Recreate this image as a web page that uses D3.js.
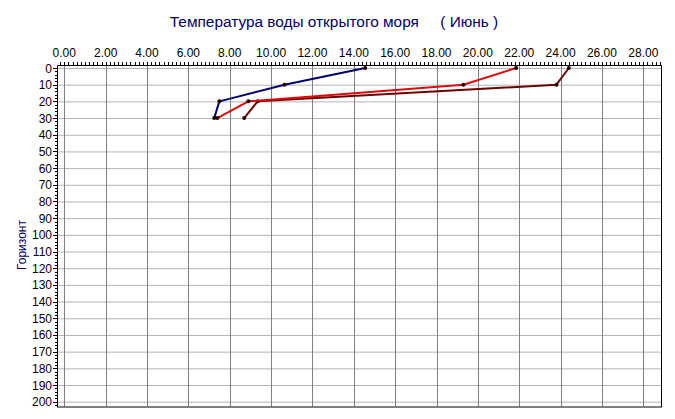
<!DOCTYPE html>
<html><head><meta charset="utf-8">
<script src="https://cdn.jsdelivr.net/npm/d3@7"></script>
<style>body{margin:0;background:#fff}svg{display:block}text{font-family:"Liberation Sans",Arial,sans-serif}</style>
</head><body>
<svg id="c" width="675" height="419"></svg>
<script>
const titleText = "Температура воды открытого моря\u00a0\u00a0\u00a0\u00a0\u00a0( Июнь )";
const yLabel = "Горизонт";
const depths = [0, 10, 20, 30];
const seriesBlue = [14.55, 10.65, 7.5, 7.25];
const seriesRed = [21.85, 19.3, 8.9, 7.4];
const seriesMaroon = [24.4, 23.8, 9.35, 8.7];
const xTicks = [0,2,4,6,8,10,12,14,16,18,20,22,24,26,28];
const yTicks = d3.range(0, 201, 10);

const svg = d3.select("#c");
const frame = {l:57, r:661, t:65, b:406.5};
const x = d3.scaleLinear().domain([0,28]).range([64.3,643.3]);
const y = d3.scaleLinear().domain([0,200]).range([68,401.7]);
const xMin = x.invert(frame.l), xMax = x.invert(frame.r);
const yMax = y.invert(frame.b);

// gridlines
svg.append("g").selectAll("line").data(yTicks).join("line")
  .attr("x1",frame.l).attr("x2",frame.r).attr("y1",d=>y(d)+0.5).attr("y2",d=>y(d)+0.5)
  .attr("stroke","#b4b4b4").attr("stroke-width",1);
svg.append("g").selectAll("line").data(xTicks).join("line")
  .attr("x1",d=>Math.round(x(d))+0.5).attr("x2",d=>Math.round(x(d))+0.5).attr("y1",frame.t).attr("y2",frame.b)
  .attr("stroke","#808080").attr("stroke-width",1);

// frame
svg.append("rect").attr("x",frame.l+0.5).attr("y",frame.t+0.5)
  .attr("width",frame.r-frame.l).attr("height",frame.b-frame.t)
  .attr("fill","none").attr("stroke","#000").attr("stroke-width",1);

// top axis minor ticks
const xMinor = d3.range(Math.ceil(xMin/0.2)*0.2, xMax, 0.2);
svg.append("g").selectAll("line").data(xMinor).join("line")
  .attr("x1",d=>Math.round(x(d))+0.5).attr("x2",d=>Math.round(x(d))+0.5)
  .attr("y1",frame.t).attr("y2",frame.t-3)
  .attr("stroke","#000").attr("stroke-width",1);
svg.append("g").selectAll("text").data(xTicks).join("text")
  .attr("x",d=>x(d)).attr("y",57).attr("text-anchor","middle")
  .attr("font-size",12).attr("fill","#000").text(d=>d.toFixed(2));

// left axis
const yMinor = d3.range(0, yMax, 2);
svg.append("g").selectAll("line").data(yMinor).join("line")
  .attr("x1",frame.l).attr("x2",d=>frame.l-(d%10===0?4:2))
  .attr("y1",d=>Math.round(y(d))+0.5).attr("y2",d=>Math.round(y(d))+0.5)
  .attr("stroke","#000").attr("stroke-width",1);
svg.append("g").selectAll("text").data(yTicks).join("text")
  .attr("x",52).attr("y",d=>y(d)+4.5).attr("text-anchor","end")
  .attr("font-size",12).attr("fill","#000").text(d=>d);

// title and axis label
svg.append("text").attr("x",334).attr("y",27).attr("text-anchor","middle")
  .attr("font-size",15.4).attr("fill","#000066").text(titleText);
svg.append("text").attr("transform","translate(26,245) rotate(-90)").attr("text-anchor","middle")
  .attr("font-size",12).attr("fill","#000066").text(yLabel);

// series
const series = [
  {vals: seriesBlue, color: "#000070"},
  {vals: seriesMaroon, color: "#6e0000"},
  {vals: seriesRed, color: "#dc0a0a"}
];
const line = d3.line().x(d=>x(d[0])).y(d=>y(d[1]));
series.forEach(s=>{
  const pts = s.vals.map((v,i)=>[v, depths[i]]);
  svg.append("path").datum(pts).attr("d",line).attr("fill","none")
    .attr("stroke",s.color).attr("stroke-width",2).attr("stroke-linejoin","round");
  svg.append("g").selectAll("circle").data(pts).join("circle")
    .attr("cx",d=>x(d[0])).attr("cy",d=>y(d[1])).attr("r",2).attr("fill","#200000");
});
</script>
</body></html>
